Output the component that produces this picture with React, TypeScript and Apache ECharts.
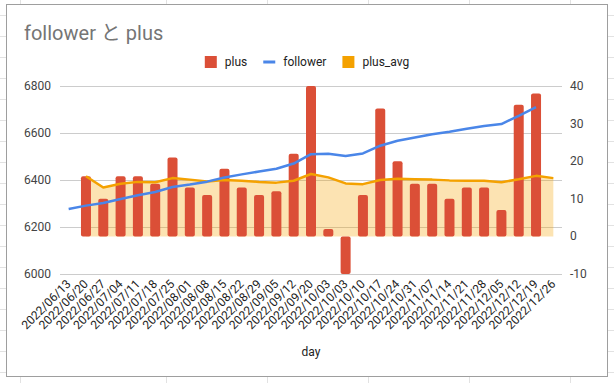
import React, { useEffect, useRef } from "react";
import * as echarts from "echarts";

const days = [
  "2022/06/13", "2022/06/20", "2022/06/27", "2022/07/04", "2022/07/11", "2022/07/18",
  "2022/07/25", "2022/08/01", "2022/08/08", "2022/08/15", "2022/08/22", "2022/08/29",
  "2022/09/05", "2022/09/12", "2022/09/20", "2022/10/03", "2022/10/03", "2022/10/10",
  "2022/10/17", "2022/10/24", "2022/10/31", "2022/11/07", "2022/11/14", "2022/11/21",
  "2022/11/28", "2022/12/05", "2022/12/12", "2022/12/19", "2022/12/26",
];

const plus = [
  null, 16, 10, 16, 16, 14, 21, 13, 11, 18, 13, 11, 12, 22, 40, 2, -10, 11, 34, 20, 14, 14,
  10, 13, 13, 7, 35, 38, 0,
];

const follower = [
  6277, 6291, 6302, 6319, 6335, 6349, 6370, 6381, 6393, 6411, 6424, 6436, 6448, 6470, 6510,
  6512, 6502, 6513, 6546, 6567, 6581, 6595, 6605, 6618, 6630, 6638, 6673, 6710, null,
];

const plusAvg = [
  null, 16, 13, 14, 14.5, 14.4, 15.5, 15.1, 14.6, 15, 14.8, 14.5, 14.3, 14.8, 16.6, 15.7,
  14.1, 13.9, 15, 15.3, 15.2, 15.1, 14.9, 14.8, 14.8, 14.4, 15.2, 16.1, 15.5,
];

const leftTicks = { min: 6000, max: 6800, interval: 200 };
const rightTicks = { min: -10, max: 40, interval: 10 };

const sheetCols = [20.5, 166.5, 267.5, 368.5, 469.5, 570.5];
const sheetRows = Array.from({ length: 18 }, (_, k) => 15 + 21 * k);

const FONT = "Roboto, 'Noto Sans CJK JP', sans-serif";
const RED = "#db4f37";
const BLUE = "#4a86e8";
const ORANGE = "#f4a100";

export default function App() {
  const ref = useRef<HTMLDivElement>(null);

  useEffect(() => {
    document.body.style.margin = "0";
    if (!ref.current) return;
    const chart = echarts.init(ref.current, undefined, { renderer: "svg" });
    chart.setOption({
      animation: false,
      textStyle: { fontFamily: FONT },
      title: {
        text: "follower と plus",
        left: 19,
        top: 18,
        textStyle: { fontSize: 20, color: "#757575", fontWeight: "normal", fontFamily: FONT },
      },
      legend: {
        top: 51,
        left: "center",
        itemWidth: 12,
        itemHeight: 12,
        itemGap: 16,
        textStyle: { fontSize: 12, color: "#222", fontFamily: FONT, padding: [0, 0, 0, 3] },
        data: [
          { name: "plus", icon: "rect" },
          {
            name: "follower",
            icon: "path://M0,0h0.01v0.01H0z M11.99,11.99h0.01v0.01h-0.01z M0,4.5h12v3H0z",
          },
          { name: "plus_avg", icon: "rect" },
        ],
      },
      grid: { left: 60, right: 52, top: 86, bottom: 109 },
      xAxis: {
        type: "category",
        data: days,
        axisTick: { show: false },
        axisLine: { show: false },
        axisLabel: { rotate: 45, interval: 0, fontSize: 12, color: "#222", margin: 8 },
        name: "day",
        nameLocation: "middle",
        nameGap: 72,
        nameTextStyle: { fontSize: 12, color: "#222" },
      },
      yAxis: [
        {
          type: "value",
          position: "left",
          ...leftTicks,
          axisLine: { show: false },
          axisTick: { show: false },
          axisLabel: { fontSize: 12, color: "#444", margin: 9, formatter: (v: number) => String(v) },
          splitLine: { lineStyle: { color: "#cccccc", width: 1 } },
        },
        {
          type: "value",
          position: "right",
          ...rightTicks,
          axisLine: { show: false },
          axisTick: { show: false },
          axisLabel: { fontSize: 12, color: "#444", margin: 8 },
          splitLine: { show: false },
        },
      ],
      series: [
        {
          name: "plus_avg",
          type: "line",
          yAxisIndex: 1,
          data: plusAvg,
          color: ORANGE,
          symbol: "none",
          lineStyle: { width: 0 },
          areaStyle: { color: ORANGE, opacity: 0.3 },
          z: 1,
        },
        {
          name: "plus",
          type: "bar",
          yAxisIndex: 1,
          data: plus,
          color: RED,
          barWidth: 10,
          itemStyle: { borderRadius: 2 },
          z: 2,
        },
        {
          name: "plus_avg",
          type: "line",
          yAxisIndex: 1,
          data: plusAvg,
          color: ORANGE,
          symbol: "none",
          lineStyle: { width: 2.5, color: ORANGE },
          z: 3,
        },
        {
          name: "follower",
          type: "line",
          yAxisIndex: 0,
          data: follower,
          color: BLUE,
          symbol: "none",
          lineStyle: { width: 2.5, color: BLUE },
          z: 4,
        },
      ],
    });
    return () => chart.dispose();
  }, []);

  return (
    <div style={{ position: "relative", width: 614, height: 383, overflow: "hidden", background: "#fff" }}>
      {sheetCols.map((x) => (
        <div
          key={"c" + x}
          style={{ position: "absolute", left: Math.floor(x), top: 0, width: 1, height: 383, background: "#e2e2e2" }}
        />
      ))}
      {sheetRows.map((y) => (
        <div
          key={"r" + y}
          style={{ position: "absolute", left: 0, top: y, width: 614, height: 1, background: "#e2e2e2" }}
        />
      ))}
      <div
        style={{
          position: "absolute",
          left: 6,
          top: 4,
          width: 602,
          height: 373,
          boxSizing: "border-box",
          border: "1px solid #9e9e9e",
          background: "#fff",
        }}
      />
      <div ref={ref} style={{ position: "absolute", left: 0, top: 0, width: 614, height: 383 }} />
    </div>
  );
}
